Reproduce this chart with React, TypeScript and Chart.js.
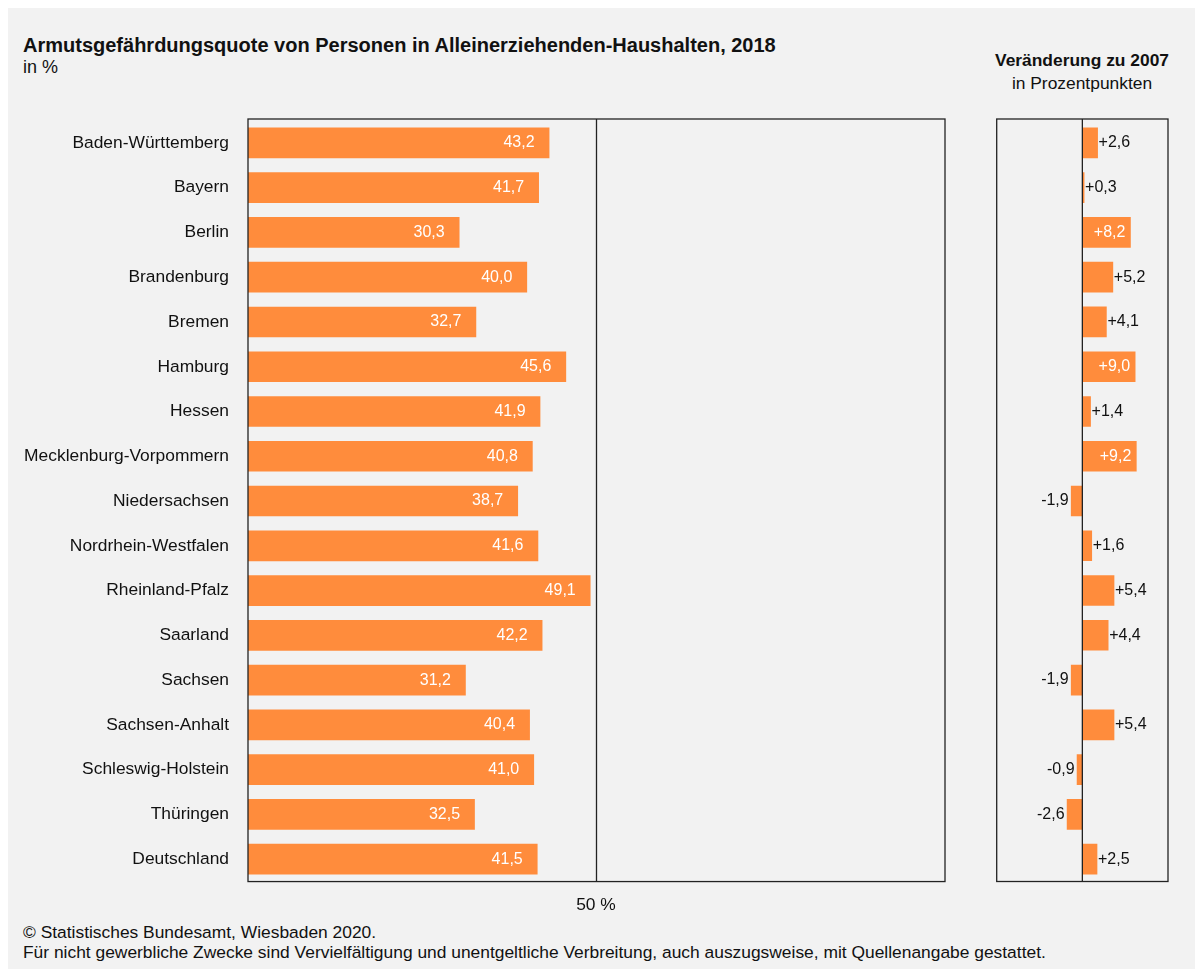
import React, { useEffect, useRef } from "react";
import { Chart, registerables } from "chart.js";

Chart.register(...registerables);

const FONT = "'Liberation Sans', Arial, Helvetica, sans-serif";
const TEXT = "#111111";
const BAR = "#FF8C3C";
const FRAME = "#222222";

const categories = [
  "Baden-Württemberg",
  "Bayern",
  "Berlin",
  "Brandenburg",
  "Bremen",
  "Hamburg",
  "Hessen",
  "Mecklenburg-Vorpommern",
  "Niedersachsen",
  "Nordrhein-Westfalen",
  "Rheinland-Pfalz",
  "Saarland",
  "Sachsen",
  "Sachsen-Anhalt",
  "Schleswig-Holstein",
  "Thüringen",
  "Deutschland",
];

const quote2018 = [43.2, 41.7, 30.3, 40.0, 32.7, 45.6, 41.9, 40.8, 38.7, 41.6, 49.1, 42.2, 31.2, 40.4, 41.0, 32.5, 41.5];
const change2007 = [2.6, 0.3, 8.2, 5.2, 4.1, 9.0, 1.4, 9.2, -1.9, 1.6, 5.4, 4.4, -1.9, 5.4, -0.9, -2.6, 2.5];

const leftRefLine = 50;
const leftRefLabel = "50 %";

const fmt = (v: number) => v.toFixed(1).replace(".", ",");
const fmtSigned = (v: number) => (v > 0 ? "+" : v < 0 ? "-" : "") + Math.abs(v).toFixed(1).replace(".", ",");

function framePlugin(refValue: number) {
  return {
    id: "frame",
    afterDatasetsDraw(chart: any) {
      const { ctx, chartArea } = chart;
      const xs = chart.scales.x;
      const top = chartArea.top - 1.5;
      ctx.save();
      ctx.strokeStyle = FRAME;
      ctx.lineWidth = 1.3;
      ctx.strokeRect(chartArea.left, top, chartArea.right - chartArea.left, chartArea.bottom - top);
      const x = xs.getPixelForValue(refValue);
      ctx.beginPath();
      ctx.moveTo(x, top);
      ctx.lineTo(x, chartArea.bottom);
      ctx.stroke();
      ctx.restore();
    },
  };
}

const leftLabelsPlugin = {
  id: "leftLabels",
  afterDraw(chart: any) {
    const { ctx } = chart;
    const meta = chart.getDatasetMeta(0);
    ctx.save();
    ctx.font = `16px ${FONT}`;
    ctx.fillStyle = "#ffffff";
    ctx.textAlign = "right";
    ctx.textBaseline = "middle";
    meta.data.forEach((el: any, i: number) => {
      ctx.fillText(fmt(quote2018[i]), el.x - 14.5, el.y);
    });
    ctx.restore();
  },
};

const rightLabelsPlugin = {
  id: "rightLabels",
  afterDraw(chart: any) {
    const { ctx } = chart;
    const meta = chart.getDatasetMeta(0);
    ctx.save();
    ctx.font = `16px ${FONT}`;
    ctx.textBaseline = "middle";
    meta.data.forEach((el: any, i: number) => {
      const v = change2007[i];
      const t = fmtSigned(v);
      if (v >= 8) {
        ctx.fillStyle = "#ffffff";
        ctx.textAlign = "right";
        ctx.fillText(t, el.x - 5, el.y);
      } else if (v >= 0) {
        ctx.fillStyle = TEXT;
        ctx.textAlign = "left";
        ctx.fillText(t, el.x + 1, el.y);
      } else {
        ctx.fillStyle = TEXT;
        ctx.textAlign = "right";
        ctx.fillText(t, el.x - 2.5, el.y);
      }
    });
    ctx.restore();
  },
};

export default function App() {
  const leftRef = useRef<HTMLCanvasElement | null>(null);
  const rightRef = useRef<HTMLCanvasElement | null>(null);

  useEffect(() => {
    Chart.defaults.font.family = FONT;
    const left = new Chart(leftRef.current as HTMLCanvasElement, {
      type: "bar",
      data: {
        labels: categories,
        datasets: [
          {
            data: quote2018,
            backgroundColor: BAR,
            borderWidth: 0,
            barThickness: 30,
          },
        ],
      },
      options: {
        indexAxis: "y",
        animation: false,
        responsive: false,
        devicePixelRatio: 1,
        layout: { padding: { left: 0, top: 112.5, right: 13, bottom: 20 } },
        plugins: { legend: { display: false }, tooltip: { enabled: false } },
        scales: {
          x: { display: false, min: 0, max: 100 },
          y: {
            type: "category",
            grid: { display: false, drawTicks: false },
            border: { display: false },
            ticks: { font: { size: 17.4, family: FONT }, color: TEXT, padding: 19, autoSkip: false },
            afterFit(scale: any) {
              scale.width = 240;
            },
          },
        },
      } as any,
      plugins: [framePlugin(leftRefLine), leftLabelsPlugin],
    });

    const right = new Chart(rightRef.current as HTMLCanvasElement, {
      type: "bar",
      data: {
        labels: categories,
        datasets: [
          {
            data: change2007,
            backgroundColor: BAR,
            borderWidth: 0,
            barThickness: 30,
          },
        ],
      },
      options: {
        indexAxis: "y",
        animation: false,
        responsive: false,
        devicePixelRatio: 1,
        layout: { padding: { left: 36.7, top: 112.5, right: 27, bottom: 26.5 } },
        plugins: { legend: { display: false }, tooltip: { enabled: false } },
        scales: {
          x: { display: false, min: -14.6, max: 14.6 },
          y: { display: false },
        },
      } as any,
      plugins: [framePlugin(0), rightLabelsPlugin],
    });

    return () => {
      left.destroy();
      right.destroy();
    };
  }, []);

  const base: React.CSSProperties = {
    position: "absolute",
    fontFamily: FONT,
    color: TEXT,
    whiteSpace: "nowrap",
    margin: 0,
  };

  return (
    <div
      style={{
        position: "fixed",
        left: 8,
        top: 8,
        width: 1187,
        height: 961,
        background: "#f2f2f2",
        overflow: "hidden",
      }}
    >
      <div style={{ ...base, left: 15, top: 24.7, fontSize: 20, lineHeight: "24px", fontWeight: "bold" }}>
        Armutsgefährdungsquote von Personen in Alleinerziehenden-Haushalten, 2018
      </div>
      <div style={{ ...base, left: 15, top: 48.5, fontSize: 18, lineHeight: "20px" }}>in %</div>
      <div
        style={{
          ...base,
          left: 1074 - 120,
          width: 240,
          textAlign: "center",
          top: 42,
          fontSize: 17.4,
          lineHeight: "20px",
          fontWeight: "bold",
        }}
      >
        Veränderung zu 2007
      </div>
      <div
        style={{ ...base, left: 1074 - 120, width: 240, textAlign: "center", top: 65.3, fontSize: 17.4, lineHeight: "20px" }}
      >
        in Prozentpunkten
      </div>
      <canvas
        ref={leftRef}
        width={950}
        height={903}
        style={{ position: "absolute", left: 0, top: 0, width: 950, height: 903 }}
      />
      <canvas
        ref={rightRef}
        width={235}
        height={900}
        style={{ position: "absolute", left: 952, top: 0, width: 235, height: 900 }}
      />
      <div
        style={{ ...base, left: 588 - 60, width: 120, textAlign: "center", top: 886, fontSize: 17.4, lineHeight: "20px" }}
      >
        {leftRefLabel}
      </div>
      <div style={{ ...base, left: 15, top: 914.3, fontSize: 17.4, lineHeight: "20px" }}>
        © Statistisches Bundesamt, Wiesbaden 2020.
      </div>
      <div style={{ ...base, left: 15, top: 933.5, fontSize: 17.4, lineHeight: "20px" }}>
        Für nicht gewerbliche Zwecke sind Vervielfältigung und unentgeltliche Verbreitung, auch auszugsweise, mit
        Quellenangabe gestattet.
      </div>
    </div>
  );
}
